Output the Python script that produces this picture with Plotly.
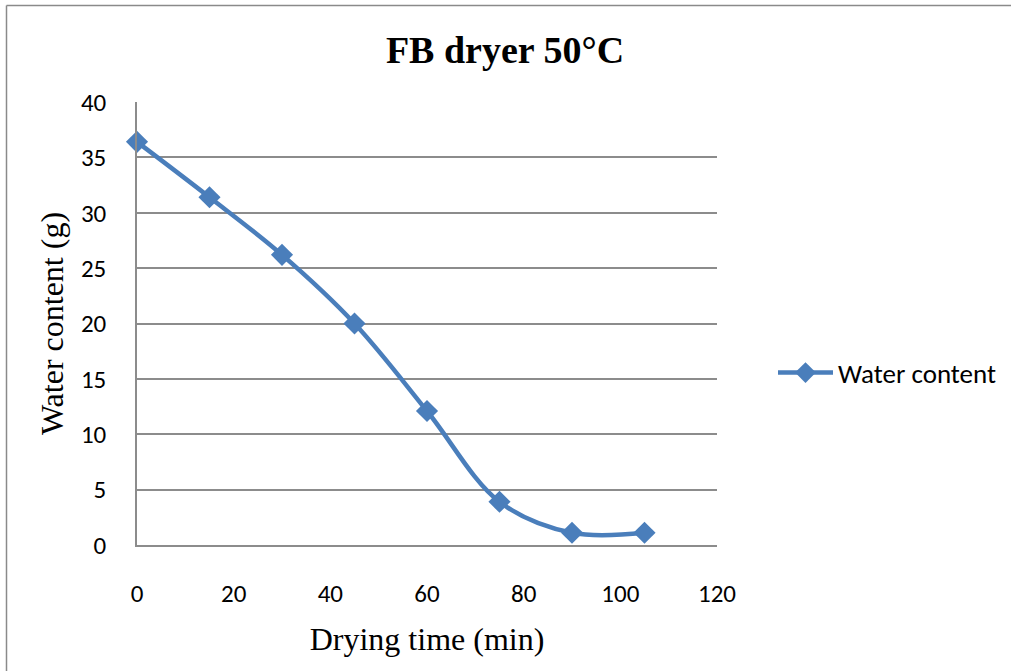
import plotly.graph_objects as go

# Drying curve for the fluidised-bed dryer at 50 °C
drying_time_min = [0, 15, 30, 45, 60, 75, 90, 105]
water_content_g = [36.4, 31.4, 26.2, 20.0, 12.1, 3.9, 1.1, 1.1]

x_ticks = [0, 20, 40, 60, 80, 100, 120]
y_ticks = [0, 5, 10, 15, 20, 25, 30, 35, 40]

W, H = 1011, 671
M_L, M_R, M_T, M_B = 137, 294, 102, 126
PLOT_W = W - M_L - M_R
PLOT_H = H - M_T - M_B

BLUE = "#4A7EBB"
GRID = "#8C8C8C"
SANS = "Carlito, Lato, sans-serif"
TICK_FONT = dict(family=SANS, size=25, color="#000000")
SERIF = "Liberation Serif, Times New Roman, serif"

fig = go.Figure()
fig.add_trace(go.Scatter(
    x=drying_time_min,
    y=water_content_g,
    mode="lines+markers",
    name="Water content",
    line=dict(color=BLUE, width=4.5, shape="spline", smoothing=1),
    marker=dict(symbol="diamond", size=17, color=BLUE),
    cliponaxis=False,
))

# chart-area border (left and top edges)
bx = -(M_L - 6.5) / PLOT_W
by = (PLOT_H + M_T - 5.5) / PLOT_H
border = dict(color="#8A8A8A", width=1.5)
fig.add_shape(type="line", xref="paper", yref="paper", x0=bx, x1=bx, y0=-1, y1=by, line=border)
fig.add_shape(type="line", xref="paper", yref="paper", x0=bx, x1=3, y0=by, y1=by, line=border)

fig.update_layout(
    width=W, height=H,
    margin=dict(l=M_L, r=M_R, t=M_T, b=M_B, autoexpand=False),
    paper_bgcolor="white",
    plot_bgcolor="white",
    title=dict(
        text="<b>FB dryer 50°C</b>",
        font=dict(family=SERIF, size=38, color="#000000"),
        x=505 / W, xanchor="center",
        y=1 - 50 / H, yanchor="middle",
    ),
    xaxis=dict(
        range=[0, 120],
        tickvals=x_ticks,
        ticktext=[str(v) for v in x_ticks],
        showgrid=False,
        zeroline=False,
        showline=True, linecolor=GRID, linewidth=1.5,
        ticks="",
        tickfont=TICK_FONT,
        ticklabelstandoff=25,
        title=dict(text="Drying time (min)", font=dict(family=SERIF, size=32, color="#000000"), standoff=20),
    ),
    yaxis=dict(
        range=[0, 40],
        tickvals=y_ticks,
        ticktext=[str(v) for v in y_ticks],
        showgrid=True, gridcolor=GRID, gridwidth=1.5,
        zeroline=False,
        showline=True, linecolor=GRID, linewidth=1.5,
        ticks="",
        tickfont=TICK_FONT,
        ticklabelstandoff=24,
        title=dict(text="Water content (g)", font=dict(family=SERIF, size=32, color="#000000"), standoff=8),
    ),
    showlegend=True,
    legend=dict(
        x=(773 - M_L) / PLOT_W, xanchor="left",
        y=(M_T + PLOT_H - 373) / PLOT_H, yanchor="middle",
        font=dict(family=SANS, size=27, color="#000000"),
        itemwidth=55,
        bgcolor="rgba(0,0,0,0)",
    ),
)

fig.write_html("out.html")
